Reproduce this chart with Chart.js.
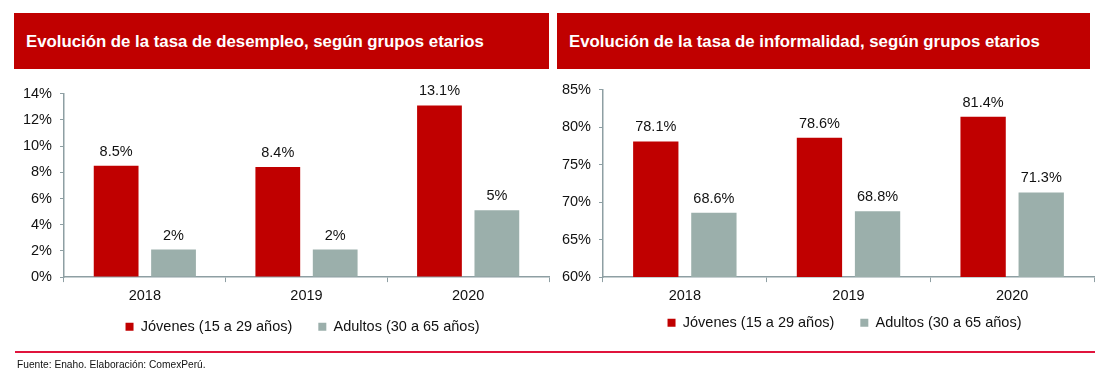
<!DOCTYPE html>
<html>
<head>
<meta charset="utf-8">
<script src="https://cdn.jsdelivr.net/npm/chart.js@4.4.0/dist/chart.umd.min.js"></script>
<style>
  body { margin:0; width:1106px; height:383px; background:#fff; position:relative; overflow:hidden; font-family:"Liberation Sans", Arial, sans-serif; }
  .title { position:absolute; top:13px; height:56px; background:#C00000; color:#fff; font-weight:bold; font-size:16.8px; line-height:58px; padding-left:12px; box-sizing:border-box; }
  .box { position:absolute; }
  .rule { position:absolute; left:15px; top:351px; width:1080px; height:2px; background:#E0143C; }
  .foot { position:absolute; left:17px; top:359px; font-size:10.2px; color:#111; }
</style>
</head>
<body>
<div class="title" style="left:14px;width:535px;">Evolución de la tasa de desempleo, según grupos etarios</div>
<div class="title" style="left:557px;width:533px;">Evolución de la tasa de informalidad, según grupos etarios</div>
<div class="box" style="left:0;top:77px;width:555px;height:283px;"><canvas id="c1"></canvas></div>
<div class="box" style="left:548px;top:73px;width:552px;height:287px;"><canvas id="c2"></canvas></div>
<div class="rule"></div>
<div class="foot">Fuente: Enaho. Elaboración: ComexPerú.</div>
<script>
// data
const years = ['2018', '2019', '2020'];
const seriesNames = ['Jóvenes (15 a 29 años)', 'Adultos (30 a 65 años)'];

const desempleoJovenes = [8.5, 8.4, 13.1];
const desempleoAdultos = [2.1, 2.1, 5.1];
const desempleoJovenesLbl = ['8.5%', '8.4%', '13.1%'];
const desempleoAdultosLbl = ['2%', '2%', '5%'];

const informalJovenes = [78.1, 78.6, 81.4];
const informalAdultos = [68.6, 68.8, 71.3];
const informalJovenesLbl = ['78.1%', '78.6%', '81.4%'];
const informalAdultosLbl = ['68.6%', '68.8%', '71.3%'];

const RED = '#C00000';
const GRAY = '#9BAFAB';
const AXIS = '#8E9FA3';
const FONT = '"Liberation Sans", Arial, sans-serif';

Chart.defaults.font.family = FONT;
Chart.defaults.font.size = 14.5;
Chart.defaults.color = '#111';

// draws the value labels above each bar
const barLabels = {
  id: 'barLabels',
  afterDatasetsDraw(chart) {
    const ctx = chart.ctx;
    ctx.save();
    ctx.font = '14.5px ' + FONT;
    ctx.fillStyle = '#111';
    ctx.textAlign = 'center';
    ctx.textBaseline = 'middle';
    chart.data.datasets.forEach((ds, i) => {
      chart.getDatasetMeta(i).data.forEach((bar, j) => {
        ctx.fillText(ds.lbls[j], bar.x, bar.y - 14);
      });
    });
    ctx.restore();
  }
};

// center the legend under the plot area, with a small nudge
const legendShift = {
  id: 'legendShift',
  afterLayout(chart, args, opts) {
    const lg = chart.legend, ca = chart.chartArea;
    lg.left = ca.left + opts.dx;
    lg.right = ca.right + opts.dx;
    lg.width = lg.right - lg.left;
    lg.top += opts.dy;
    lg.bottom += opts.dy;
  }
};

function makeChart(id, jov, adu, jovL, aduL, min, max, step, yWidth, padTop, lgDy) {
  return new Chart(document.getElementById(id), {
    type: 'bar',
    data: {
      labels: years,
      datasets: [
        { label: seriesNames[0], data: jov, lbls: jovL, backgroundColor: RED,
          categoryPercentage: 0.71, barPercentage: 0.78 },
        { label: seriesNames[1], data: adu, lbls: aduL, backgroundColor: GRAY,
          categoryPercentage: 0.71, barPercentage: 0.78 }
      ]
    },
    options: {
      responsive: true,
      maintainAspectRatio: false,
      animation: false,
      layout: { padding: { top: padTop, right: 6, left: 0, bottom: 0 } },
      plugins: {
        legend: {
          position: 'bottom',
          labels: { boxWidth: 8, boxHeight: 8, padding: 26, color: '#111', font: { size: 14.5 } }
        },
        legendShift: { dx: -4, dy: lgDy },
        tooltip: { enabled: false }
      },
      scales: {
        x: {
          grid: { drawOnChartArea: false, drawTicks: true, tickLength: 5, color: AXIS },
          border: { color: AXIS, width: 1.5 },
          ticks: { padding: 5, color: '#111', font: { size: 14.5 } }
        },
        y: {
          min: min, max: max,
          afterFit: s => { s.width = yWidth; },
          grid: { drawOnChartArea: false, drawTicks: true, tickLength: 4, color: AXIS },
          border: { color: AXIS, width: 1.5 },
          ticks: { stepSize: step, padding: 8, color: '#111', font: { size: 14.5 }, callback: v => v + '%' }
        }
      }
    },
    plugins: [barLabels, legendShift]
  });
}

makeChart('c1', desempleoJovenes, desempleoAdultos, desempleoJovenesLbl, desempleoAdultosLbl, 0, 14, 2, 64, 4, -16);
makeChart('c2', informalJovenes, informalAdultos, informalJovenesLbl, informalAdultosLbl, 60, 85, 5, 55, 1, -20);
</script>
</body>
</html>
